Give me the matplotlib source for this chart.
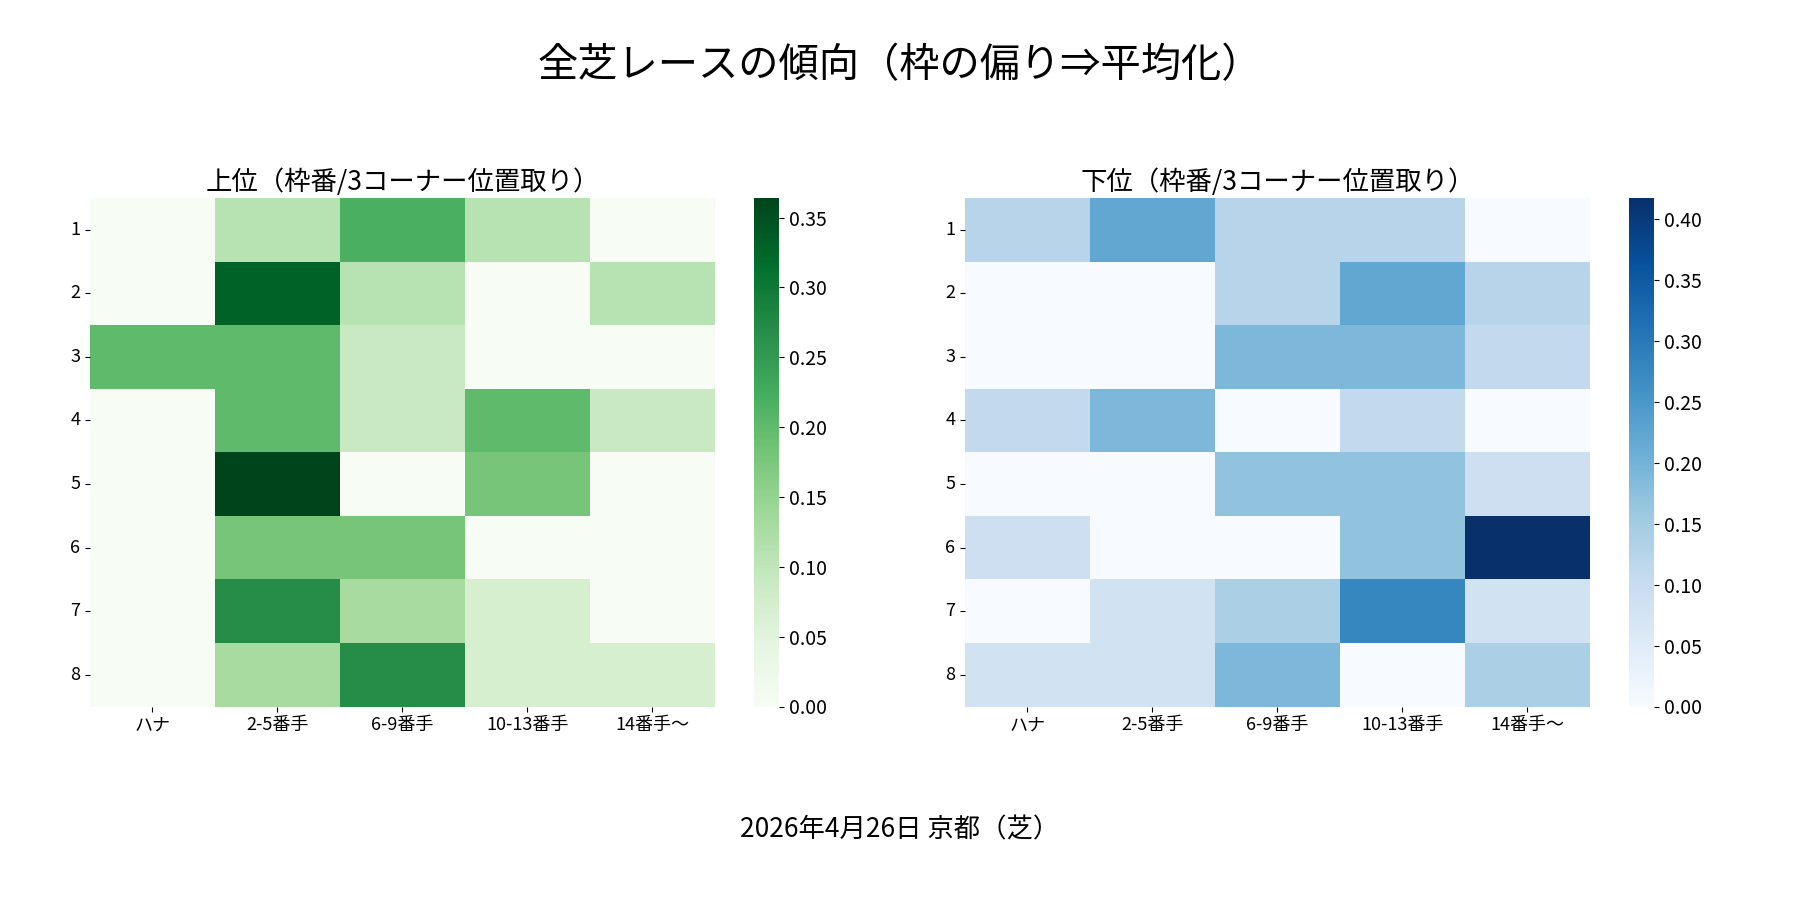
import numpy as np
import matplotlib
matplotlib.use("Agg")
import matplotlib.pyplot as plt
import seaborn as sns

plt.rcParams['font.family'] = ['Noto Sans CJK JP', 'DejaVu Sans']

# データ
rows = ["1", "2", "3", "4", "5", "6", "7", "8"]
cols = ["ハナ", "2-5番手", "6-9番手", "10-13番手", "14番手〜"]

top = np.array([
    [0.00, 0.11, 0.22, 0.11, 0.00],
    [0.00, 0.33, 0.11, 0.00, 0.11],
    [0.20, 0.20, 0.09, 0.00, 0.00],
    [0.00, 0.20, 0.09, 0.20, 0.09],
    [0.00, 0.364, 0.00, 0.18, 0.00],
    [0.00, 0.18, 0.18, 0.00, 0.00],
    [0.00, 0.27, 0.13, 0.07, 0.00],
    [0.00, 0.13, 0.27, 0.07, 0.07],
])
bottom = np.array([
    [0.125, 0.22, 0.125, 0.125, 0.00],
    [0.00, 0.00, 0.125, 0.22, 0.125],
    [0.00, 0.00, 0.19, 0.19, 0.11],
    [0.11, 0.19, 0.00, 0.11, 0.00],
    [0.00, 0.00, 0.17, 0.17, 0.09],
    [0.09, 0.00, 0.00, 0.17, 0.417],
    [0.00, 0.08, 0.14, 0.28, 0.08],
    [0.08, 0.08, 0.19, 0.00, 0.14],
])

fig, axes = plt.subplots(1, 2, figsize=(18, 9), dpi=100)
fig.subplots_adjust(left=0.05, right=0.97, top=0.78, bottom=0.215, wspace=0.12)

for ax, data, cmap, title in [
    (axes[0], top, "Greens", "上位（枠番/3コーナー位置取り）"),
    (axes[1], bottom, "Blues", "下位（枠番/3コーナー位置取り）"),
]:
    sns.heatmap(data, ax=ax, cmap=cmap, xticklabels=cols, yticklabels=rows,
                cbar_kws={"pad": 0.05})
    ax.set_title(title, fontsize=19)
    ax.tick_params(labelsize=13)
    ax.set_yticklabels(rows, rotation=0)
    ax.collections[0].colorbar.ax.tick_params(labelsize=14)

fig.suptitle("全芝レースの傾向（枠の偏り⇒平均化）", fontsize=29, y=0.95)
fig.text(0.5, 0.07, "2026年4月26日 京都（芝）", ha="center", fontsize=19)

plt.savefig("out.png")
